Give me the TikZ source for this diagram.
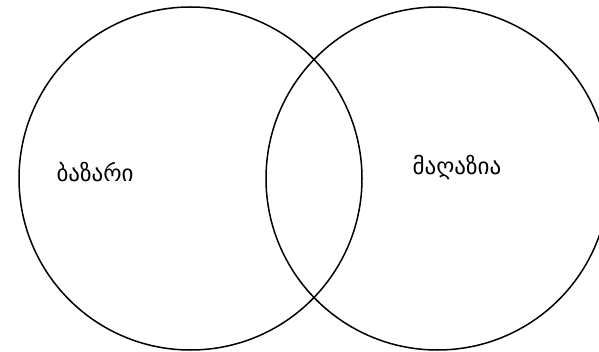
\documentclass[tikz,border=0pt]{standalone}
\usepackage{fontspec}
\newfontfamily\geofont[Script=Georgian]{DejaVu Sans}
\usetikzlibrary{positioning}

\begin{document}
\begin{tikzpicture}[
    x=1pt, y=-1pt,
    set/.style={draw, line width=1.5pt, circle, minimum size=343pt, inner sep=0pt},
    lbl/.style={font=\geofont\fontsize{23}{27}\selectfont, inner sep=0pt}
]
    \useasboundingbox (0,0) rectangle (599,352);
    \clip (0,0) rectangle (599,352);

    \node[set] (market) at (190.5,178.5) {};
    \node[set] (shop) at (437.5,178.5) {};

    \node[lbl] (marketname) at (95,172) {ბაზარი};
    \node[lbl] (shopname) at (457,168) {მაღაზია};
\end{tikzpicture}
\end{document}
